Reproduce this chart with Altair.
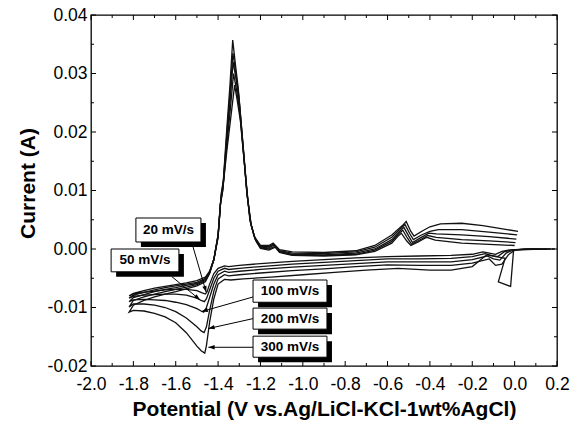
import math
import altair as alt
import pandas as pd

W, H = 466, 351
X_DOM = [-2.0, 0.2]
Y_DOM = [-0.02, 0.04]

rates = ["20 mV/s", "50 mV/s", "100 mV/s", "200 mV/s", "300 mV/s"]

# ---- cyclic voltammograms (potential V, current A) ----
x_20 = [0.10, 0.0, -0.03, -0.06, -0.09, -0.12, -0.15, -0.20, -0.30, -0.45, -0.60, -0.75, -0.90, -1.05, -1.20, -1.30, -1.35, -1.37, -1.40, -1.42, -1.44, -1.452, -1.46, -1.475, -1.50, -1.55, -1.60, -1.65, -1.70, -1.75, -1.80, -1.82,
        -1.80, -1.75, -1.70, -1.65, -1.60, -1.55, -1.50, -1.46, -1.44, -1.42, -1.40, -1.39, -1.38, -1.358, -1.340, -1.322, -1.310, -1.295, -1.277, -1.260, -1.243, -1.222, -1.20, -1.16, -1.13, -1.11, -1.05, -0.90, -0.75, -0.66, -0.58, -0.55, -0.535, -0.51, -0.49, -0.455, -0.415, -0.375, -0.25, -0.12, 0.0]
y_20 = [0.0000, -0.0001, -0.0002, -0.0004, -0.0009, -0.0007, -0.0005, -0.0009, -0.0011, -0.0012, -0.0013, -0.0015, -0.0018, -0.0021, -0.0025, -0.0028, -0.0030, -0.0029, -0.0033, -0.0042, -0.0060, -0.0073, -0.0077, -0.0075, -0.0071, -0.0069, -0.0069, -0.0070, -0.0072, -0.0074, -0.0077, -0.0080,
        -0.0076, -0.0071, -0.0067, -0.0064, -0.0061, -0.0058, -0.0054, -0.0048, -0.0038, -0.0018, 0.0020, 0.0075, 0.0095, 0.0170, 0.0225, 0.0280, 0.0255, 0.0220, 0.0150, 0.0085, 0.0040, 0.0014, 0.0001, -0.0002, 0.0003, -0.0006, -0.0011, -0.0012, -0.0010, -0.0004, 0.0010, 0.0022, 0.0027, 0.0014, 0.0006, 0.0012, 0.0020, 0.0015, 0.0010, 0.0008, 0.0006]

x_50 = [0.12, 0.01, -0.02, -0.05, -0.08, -0.11, -0.14, -0.20, -0.30, -0.45, -0.60, -0.75, -0.90, -1.05, -1.20, -1.30, -1.35, -1.37, -1.40, -1.42, -1.44, -1.455, -1.465, -1.48, -1.50, -1.55, -1.60, -1.65, -1.70, -1.75, -1.80, -1.82,
        -1.80, -1.75, -1.70, -1.65, -1.60, -1.55, -1.50, -1.46, -1.44, -1.42, -1.40, -1.388, -1.378, -1.358, -1.342, -1.327, -1.313, -1.298, -1.279, -1.262, -1.245, -1.224, -1.20, -1.16, -1.13, -1.11, -1.05, -0.90, -0.75, -0.66, -0.58, -0.545, -0.528, -0.505, -0.486, -0.45, -0.41, -0.37, -0.25, -0.12, 0.004]
y_50 = [0.0000, -0.0001, -0.0002, -0.0005, -0.0013, -0.0011, -0.0008, -0.0013, -0.0016, -0.0017, -0.0017, -0.0020, -0.0023, -0.0026, -0.0030, -0.0033, -0.0035, -0.0033, -0.0038, -0.0050, -0.0070, -0.0085, -0.0090, -0.0088, -0.0084, -0.0079, -0.0077, -0.0077, -0.0078, -0.0079, -0.0081, -0.0084,
        -0.0079, -0.0074, -0.0070, -0.0066, -0.0063, -0.0060, -0.0057, -0.0050, -0.0039, -0.0018, 0.0021, 0.0080, 0.0100, 0.0180, 0.0240, 0.0300, 0.0272, 0.0235, 0.0160, 0.0090, 0.0042, 0.0016, 0.0002, 0.0000, 0.0005, -0.0005, -0.0010, -0.0011, -0.0009, -0.0002, 0.0013, 0.0027, 0.0032, 0.0018, 0.0008, 0.0015, 0.0023, 0.0020, 0.0016, 0.0014, 0.0011]

x_100 = [0.15, 0.02, -0.01, -0.04, -0.07, -0.10, -0.13, -0.20, -0.30, -0.45, -0.60, -0.75, -0.90, -1.05, -1.20, -1.30, -1.35, -1.37, -1.40, -1.42, -1.44, -1.455, -1.468, -1.48, -1.50, -1.55, -1.60, -1.65, -1.70, -1.75, -1.80, -1.82,
         -1.80, -1.75, -1.70, -1.65, -1.60, -1.55, -1.50, -1.46, -1.44, -1.42, -1.40, -1.387, -1.377, -1.358, -1.343, -1.329, -1.315, -1.300, -1.281, -1.264, -1.247, -1.226, -1.20, -1.16, -1.135, -1.11, -1.05, -0.90, -0.75, -0.66, -0.58, -0.54, -0.523, -0.50, -0.482, -0.445, -0.405, -0.37, -0.25, -0.12, 0.008]
y_100 = [0.0000, -0.0001, -0.0002, -0.0007, -0.0019, -0.0017, -0.0012, -0.0018, -0.0022, -0.0022, -0.0022, -0.0025, -0.0028, -0.0031, -0.0035, -0.0038, -0.0040, -0.0038, -0.0044, -0.0060, -0.0083, -0.0100, -0.0108, -0.0106, -0.0102, -0.0095, -0.0091, -0.0088, -0.0087, -0.0086, -0.0087, -0.0090,
         -0.0083, -0.0078, -0.0073, -0.0069, -0.0066, -0.0062, -0.0059, -0.0052, -0.0040, -0.0018, 0.0022, 0.0085, 0.0105, 0.0190, 0.0255, 0.0320, 0.0290, 0.0250, 0.0170, 0.0095, 0.0045, 0.0018, 0.0003, 0.0002, 0.0007, -0.0004, -0.0009, -0.0010, -0.0007, 0.0000, 0.0016, 0.0031, 0.0037, 0.0022, 0.0011, 0.0019, 0.0027, 0.0026, 0.0024, 0.0021, 0.0017]

x_200 = [0.17, 0.03, 0.0, -0.03, -0.06, -0.09, -0.12, -0.20, -0.30, -0.45, -0.60, -0.75, -0.90, -1.05, -1.20, -1.30, -1.35, -1.37, -1.40, -1.42, -1.44, -1.455, -1.466, -1.48, -1.50, -1.55, -1.60, -1.65, -1.70, -1.75, -1.80, -1.82,
         -1.80, -1.75, -1.70, -1.65, -1.60, -1.55, -1.50, -1.46, -1.44, -1.42, -1.40, -1.386, -1.376, -1.358, -1.344, -1.330, -1.316, -1.302, -1.283, -1.265, -1.248, -1.228, -1.20, -1.16, -1.14, -1.11, -1.05, -0.90, -0.75, -0.66, -0.58, -0.535, -0.518, -0.495, -0.478, -0.44, -0.40, -0.36, -0.25, -0.12, 0.012]
y_200 = [0.0000, -0.0001, -0.0002, -0.0010, -0.0026, -0.0028, -0.0017, -0.0024, -0.0028, -0.0028, -0.0027, -0.0030, -0.0034, -0.0037, -0.0041, -0.0044, -0.0046, -0.0044, -0.0051, -0.0072, -0.0105, -0.0133, -0.0143, -0.0140, -0.0133, -0.0118, -0.0107, -0.0100, -0.0096, -0.0094, -0.0094, -0.0099,
         -0.0088, -0.0082, -0.0077, -0.0073, -0.0069, -0.0065, -0.0061, -0.0054, -0.0041, -0.0018, 0.0024, 0.0090, 0.0112, 0.0200, 0.0265, 0.0335, 0.0300, 0.0262, 0.0180, 0.0100, 0.0048, 0.0020, 0.0004, 0.0004, 0.0008, -0.0003, -0.0007, -0.0008, -0.0005, 0.0003, 0.0020, 0.0036, 0.0042, 0.0026, 0.0016, 0.0024, 0.0030, 0.0033, 0.0033, 0.0029, 0.0024]

x_300 = [0.19, 0.05, -0.005, -0.019, -0.077, -0.045, -0.132, -0.20, -0.30, -0.40, -0.55, -0.70, -0.85, -1.00, -1.15, -1.28, -1.34, -1.37, -1.40, -1.42, -1.44, -1.455, -1.463, -1.48, -1.50, -1.55, -1.60, -1.65, -1.70, -1.75, -1.80, -1.82,
         -1.80, -1.75, -1.70, -1.65, -1.60, -1.55, -1.50, -1.46, -1.44, -1.42, -1.40, -1.385, -1.375, -1.358, -1.344, -1.331, -1.318, -1.305, -1.285, -1.265, -1.25, -1.23, -1.20, -1.16, -1.14, -1.11, -1.05, -0.90, -0.75, -0.66, -0.58, -0.53, -0.512, -0.49, -0.475, -0.44, -0.40, -0.35, -0.25, -0.15, -0.05, 0.016]
y_300 = [0.0000, 0.0000, -0.0002, -0.0064, -0.0056, -0.0016, -0.0010, -0.0030, -0.0036, -0.0036, -0.0033, -0.0036, -0.0040, -0.0044, -0.0048, -0.0051, -0.0053, -0.0052, -0.0060, -0.0085, -0.0125, -0.0165, -0.0178, -0.0174, -0.0166, -0.0143, -0.0126, -0.0116, -0.0110, -0.0106, -0.0105, -0.0108,
         -0.0096, -0.0088, -0.0082, -0.0077, -0.0073, -0.0068, -0.0063, -0.0056, -0.0042, -0.0018, 0.0025, 0.0095, 0.0118, 0.0210, 0.0280, 0.0357, 0.0315, 0.0275, 0.0190, 0.0105, 0.0050, 0.0022, 0.0006, 0.0006, 0.0010, -0.0001, -0.0005, -0.0006, -0.0003, 0.0006, 0.0024, 0.0040, 0.0047, 0.0030, 0.0022, 0.0030, 0.0038, 0.0043, 0.0044, 0.0040, 0.0034, 0.0030]

# ---- annotation boxes (data coordinates) ----
box_x1 = [-1.788, -1.905, -1.235, -1.235, -1.235]
box_x2 = [-1.481, -1.585, -0.886, -0.886, -0.886]
box_y1 = [0.0053, 0.0000, -0.0053, -0.0101, -0.0149]
box_y2 = [0.0012, -0.0039, -0.0091, -0.0137, -0.0185]

arrow_x1 = [-1.525, -1.619, -1.235, -1.235, -1.235]
arrow_y1 = [0.0012, -0.0047, -0.0082, -0.0119, -0.0168]
arrow_x2 = [-1.456, -1.485, -1.478, -1.446, -1.446]
arrow_y2 = [-0.0074, -0.0087, -0.0107, -0.0136, -0.0168]

# ---- ticks ----
x_major = [-2.0, -1.8, -1.6, -1.4, -1.2, -1.0, -0.8, -0.6, -0.4, -0.2, 0.0, 0.2]
x_minor = [-1.9, -1.7, -1.5, -1.3, -1.1, -0.9, -0.7, -0.5, -0.3, -0.1, 0.1]
y_major = [-0.02, -0.01, 0.0, 0.01, 0.02, 0.03, 0.04]
y_minor = [-0.015, -0.005, 0.005, 0.015, 0.025, 0.035]

FONT = "Liberation Sans"

curves = {"20 mV/s": (x_20, y_20), "50 mV/s": (x_50, y_50), "100 mV/s": (x_100, y_100),
          "200 mV/s": (x_200, y_200), "300 mV/s": (x_300, y_300)}
rows = []
for name, (xs_, ys_) in curves.items():
    for i, (a, b) in enumerate(zip(xs_, ys_)):
        rows.append({"rate": name, "i": i, "E": a, "I": b})
df = pd.DataFrame(rows)

xsc = alt.Scale(domain=X_DOM, nice=False, zero=False)
ysc = alt.Scale(domain=Y_DOM, nice=False, zero=False)

AX = alt.Axis(
    values=x_major, labelExpr="replace(format(datum.value, '.1f'), '\u2212', '-')",
    labelPadding=9, labelOverlap=False, labelFlush=False,
    title="Potential (V vs.Ag/LiCl-KCl-1wt%AgCl)",
    titleY=49, titleBaseline="alphabetic")
AY = alt.Axis(
    values=y_major, labelExpr="replace(format(datum.value, '.2f'), '\u2212', '-')",
    labelPadding=4, labelOverlap=False, labelFlush=False,
    title="Current (A)", titleAngle=270, titleX=-57, titleY=168,
    titleBaseline="alphabetic", titleAlign="center")

X = lambda f: alt.X(f, scale=xsc, axis=AX)
Y = lambda f: alt.Y(f, scale=ysc, axis=AY)

lines = alt.Chart(df).mark_line(color="#111111", strokeWidth=1.3).encode(
    x=X("E:Q"), y=Y("I:Q"), detail="rate:N", order="i:Q")

lab = pd.DataFrame({"text": rates, "x1": box_x1, "x2": box_x2, "y1": box_y1, "y2": box_y2})
lab["xc"] = (lab["x1"] + lab["x2"]) / 2
lab["yc"] = (lab["y1"] + lab["y2"]) / 2

arr = pd.DataFrame({"x1": arrow_x1, "y1": arrow_y1, "x2": arrow_x2, "y2": arrow_y2})
sx = W / (X_DOM[1] - X_DOM[0])
sy = H / (Y_DOM[1] - Y_DOM[0])
arr["ang"] = [
    math.degrees(math.atan2((b2 - b1) * sx, (c2 - c1) * sy)) % 360
    for b1, c1, b2, c2 in zip(arr["x1"], arr["y1"], arr["x2"], arr["y2"])
]

arrow_lines = alt.Chart(arr).mark_rule(color="black", strokeWidth=1).encode(
    x=X("x1:Q"), y=Y("y1:Q"), x2="x2:Q", y2="y2:Q")
arrow_heads = alt.Chart(arr).mark_point(
    shape="M0,0L-0.38,1.1L0.38,1.1Z", filled=True, color="black", opacity=1, size=130
).encode(x=X("x2:Q"), y=Y("y2:Q"), angle=alt.Angle("ang:Q", scale=None))

shadow = alt.Chart(lab).mark_rect(color="black", xOffset=5, x2Offset=5, yOffset=5, y2Offset=5).encode(
    x=X("x1:Q"), x2="x2:Q", y=Y("y1:Q"), y2="y2:Q")
box = alt.Chart(lab).mark_rect(fill="white", stroke="black", strokeWidth=1).encode(
    x=X("x1:Q"), x2="x2:Q", y=Y("y1:Q"), y2="y2:Q")
text = alt.Chart(lab).mark_text(font=FONT, fontSize=13.5, fontWeight="bold", color="black",
                                align="center", baseline="middle").encode(
    x=X("xc:Q"), y=Y("yc:Q"), text="text:N")

tx_maj = pd.DataFrame({"v": x_major})
tx_min = pd.DataFrame({"v": x_minor})
ty_maj = pd.DataFrame({"v": y_major})
ty_min = pd.DataFrame({"v": y_minor})

def xticks(d, L):
    b = alt.Chart(d).mark_rule(color="black", strokeWidth=1).encode(
        x=X("v:Q"), y=alt.value(H), y2=alt.value(H - L))
    t = alt.Chart(d).mark_rule(color="black", strokeWidth=1).encode(
        x=X("v:Q"), y=alt.value(0), y2=alt.value(L))
    return b + t

def yticks(d, L):
    l = alt.Chart(d).mark_rule(color="black", strokeWidth=1).encode(
        y=Y("v:Q"), x=alt.value(0), x2=alt.value(L))
    r = alt.Chart(d).mark_rule(color="black", strokeWidth=1).encode(
        y=Y("v:Q"), x=alt.value(W), x2=alt.value(W - L))
    return l + r

chart = alt.layer(
    lines, arrow_lines, arrow_heads, shadow, box, text,
    xticks(tx_maj, 5), xticks(tx_min, 3), yticks(ty_maj, 5), yticks(ty_min, 3),
).properties(
    width=W, height=H,
    padding={"left": 83, "top": 7, "right": 13, "bottom": 54},
    autosize=alt.AutoSizeParams(type="none"),
).configure_view(
    stroke="black", strokeWidth=1.3
).configure_axis(
    domain=False, ticks=False, grid=False,
    labelFont=FONT, labelFontSize=17.5, labelColor="black",
    titleFont=FONT, titleFontSize=21, titleFontWeight="bold", titleColor="black",
)

chart.save("out.html", embed_options={"renderer": "svg", "actions": False})
